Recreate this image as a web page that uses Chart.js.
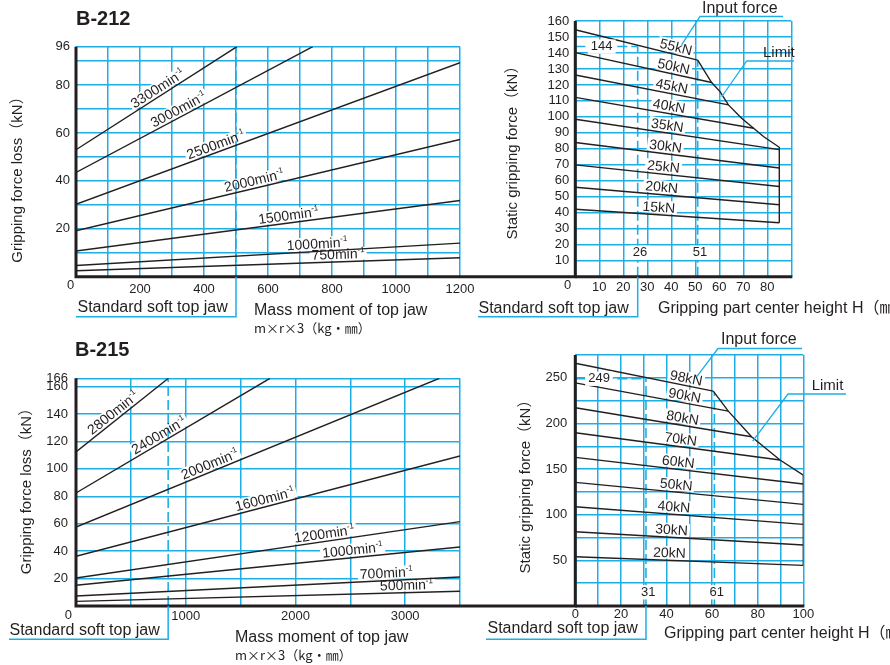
<!DOCTYPE html>
<html><head><meta charset="utf-8">
<script src="https://cdn.jsdelivr.net/npm/chart.js@4.4.1/dist/chart.umd.min.js"></script>
<style>
html,body{margin:0;padding:0;background:#fff;}
#wrap{position:relative;width:890px;height:665px;overflow:hidden;background:#fff;}
#wrap canvas{position:absolute;left:0;top:0;}
</style></head><body>
<div id="wrap">
<canvas id="c1" width="890" height="665"></canvas>
<canvas id="c2" width="890" height="665"></canvas>
<canvas id="c3" width="890" height="665"></canvas>
<canvas id="c4" width="890" height="665"></canvas>
</div>
<script>
// ---------- B-212 : gripping force loss vs mass moment of top jaw ----------
const b212Speeds = ['3300', '3000', '2500', '2000', '1500', '1000', '750'];
const b212LossX = [[0, 503], [0, 740], [0, 1200], [0, 1200], [0, 1200], [0, 1200], [0, 1200]];
const b212LossY = [[53, 96], [43.5, 96], [30.2, 89.3], [19.2, 57.3], [10.7, 31.8], [4.7, 14], [2.5, 7.9]];
const b212MassTicks = [0, 100, 200, 300, 400, 500, 600, 700, 800, 900, 1000, 1100, 1200];
const b212MassLabels = [200, 400, 600, 800, 1000, 1200];
const b212LossTicks = [0, 10, 20, 30, 40, 50, 60, 70, 80, 90, 96];
const b212LossLabels = [20, 40, 60, 80, 96];
const b212StdMass = 500;

// ---------- B-212 : static gripping force vs gripping height ----------
const b212Inputs = ['55kN', '50kN', '45kN', '40kN', '35kN', '30kN', '25kN', '20kN', '15kN'];
const b212HeightX = [[0, 51], [0, 56.8], [0, 63.8], [0, 74.3], [0, 85], [0, 85], [0, 85], [0, 85], [0, 85]];
const b212StaticY = [[154.5, 135.5], [140.2, 121.5], [126.2, 107.5], [112.2, 92.9], [98.5, 79.5], [84, 68], [70, 56.4], [56, 45], [42.2, 33.8]];
const b212LimitX = [51, 56.8, 60.3, 63.8, 69.3, 74.3, 78.4, 85, 85];
const b212LimitY = [135.5, 121.5, 115.8, 107.5, 99.1, 92.9, 87.7, 81, 33.8];
const b212HeightTicks = [0, 10, 20, 30, 40, 50, 60, 70, 80, 90];
const b212HeightLabels = [10, 20, 30, 40, 50, 60, 70, 80];
const b212StaticTicks = [0, 10, 20, 30, 40, 50, 60, 70, 80, 90, 100, 110, 120, 130, 140, 150, 160];
const b212StaticLabels = [10, 20, 30, 40, 50, 60, 70, 80, 90, 100, 110, 120, 130, 140, 150, 160];
const b212StdHeights = [26, 51];
const b212StdForces = [144, 135.5];

// ---------- B-215 : gripping force loss vs mass moment of top jaw ----------
const b215Speeds = ['2800', '2400', '2000', '1600', '1200', '1000', '700', '500'];
const b215LossX = [[0, 842], [0, 1768], [0, 3312], [0, 3500], [0, 3500], [0, 3500], [0, 3500], [0, 3500]];
const b215LossY = [[112.3, 166], [82.4, 166], [57.6, 166], [36.2, 109.4], [20.4, 61.5], [15.1, 43], [7.3, 21.1], [3.4, 10.7]];
const b215MassTicks = [0, 500, 1000, 1500, 2000, 2500, 3000, 3500];
const b215MassLabels = [1000, 2000, 3000];
const b215LossTicks = [0, 20, 40, 60, 80, 100, 120, 140, 160, 166];
const b215LossLabels = [20, 40, 60, 80, 100, 120, 140, 160, 166];
const b215StdMass = 840;

// ---------- B-215 : static gripping force vs gripping height ----------
const b215Inputs = ['98kN', '90kN', '80kN', '70kN', '60kN', '50kN', '40kN', '30kN', '20kN'];
const b215HeightX = [[0, 60.5], [0, 67.1], [0, 77.3], [0, 89.8], [0, 100], [0, 100], [0, 100], [0, 100], [0, 100]];
const b215StaticY = [[266, 235.4], [244.5, 213.5], [217.2, 185.4], [189.8, 159.9], [162.8, 133.6], [135.4, 111.3], [108.8, 89.4], [81.4, 66.8], [54, 44.5]];
const b215LimitX = [60.5, 67.1, 77.3, 89.8, 100, 100];
const b215LimitY = [235.4, 213.5, 185.4, 159.9, 143.4, 44.5];
const b215HeightTicks = [0, 10, 20, 30, 40, 50, 60, 70, 80, 90, 100];
const b215HeightLabels = [0, 20, 40, 60, 80, 100];
const b215StaticTicks = [0, 25, 50, 75, 100, 125, 150, 175, 200, 225, 250, 275];
const b215StaticLabels = [50, 100, 150, 200, 250];
const b215StdHeights = [31, 61];
const b215StdForces = [249, 234];

// ---------- styling / helpers ----------
const INK = '#231f20', GRID = '#1eaee6', WHITE = '#ffffff';
const FONT = '"Liberation Sans", Arial, "Noto Sans CJK JP", sans-serif';
const CJKFONT = '"Noto Sans CJK JP", "Liberation Sans", sans-serif';
const series = (xs, ys) => xs.map((x, i) => ({ x, y: ys[i] }));

function txt(ctx, s, x, y, size, o = {}) {
  ctx.save();
  ctx.font = (o.bold ? 'bold ' : '') + size + 'px ' + (o.family || FONT);
  ctx.textAlign = o.align || 'left';
  ctx.textBaseline = o.base || 'alphabetic';
  if (o.rot) { ctx.translate(x, y); ctx.rotate(o.rot); x = 0; y = 0; }
  if (o.bg) {
    const w = ctx.measureText(s).width;
    ctx.fillStyle = WHITE;
    const lx = ctx.textAlign === 'center' ? x - w / 2 : x;
    ctx.fillRect(lx - 3, y - size * 0.55, w + 6, size * 1.1);
  }
  ctx.fillStyle = o.color || INK;
  ctx.fillText(s, x, y);
  ctx.restore();
}
function poly(ctx, pts, color, w, dash) {
  ctx.save();
  ctx.strokeStyle = color; ctx.lineWidth = w; ctx.setLineDash(dash || []);
  ctx.beginPath();
  pts.forEach((p, i) => i ? ctx.lineTo(p[0], p[1]) : ctx.moveTo(p[0], p[1]));
  ctx.stroke(); ctx.restore();
}
function curveLabel(ch, xs, ys, atX, main, sup, size, mode) {
  const ctx = ch.ctx, sx = ch.scales.x, sy = ch.scales.y;
  const P = xs.map((x, i) => [sx.getPixelForValue(x), sy.getPixelForValue(ys[i])]);
  const X = sx.getPixelForValue(atX);
  let i = 0; while (i < P.length - 2 && P[i + 1][0] < X) i++;
  const [x0, y0] = P[i], [x1, y1] = P[i + 1];
  const Y = y0 + (X - x0) / (x1 - x0) * (y1 - y0);
  const ang = Math.atan2(y1 - y0, x1 - x0);
  ctx.save(); ctx.translate(X, Y); ctx.rotate(ang);
  ctx.font = size + 'px ' + FONT; const w1 = ctx.measureText(main).width;
  const ss = Math.round(size * 0.6);
  ctx.font = ss + 'px ' + FONT; const w2 = sup ? ctx.measureText(sup).width : 0;
  const w = w1 + w2, x = -w / 2, base = -3;
  if (mode === 'bg') {
    ctx.fillStyle = WHITE; ctx.fillRect(x - 2, base - size * 0.8, w + 4, size * 0.8 + 1.5);
  } else {
    ctx.fillStyle = INK; ctx.textBaseline = 'alphabetic';
    ctx.font = size + 'px ' + FONT; ctx.fillText(main, x, base);
    if (sup) { ctx.font = ss + 'px ' + FONT; ctx.fillText(sup, x + w1, base - size * 0.42); }
  }
  ctx.restore();
}

function makeChart(id, cfg) {
  const YW = 60, XH = 40;
  const datasets = [];
  cfg.curvesX.forEach((xs, i) => datasets.push({
    label: cfg.names[i], data: series(xs, cfg.curvesY[i]),
    borderColor: INK, borderWidth: 1.4, pointRadius: 0, fill: false, tension: 0, order: 1
  }));
  (cfg.extra || []).forEach(d => datasets.push(Object.assign({ pointRadius: 0, fill: false, tension: 0 }, d)));
  const scale = (ticks, labels, pad, isX) => ({
    type: 'linear', min: ticks[0], max: ticks[ticks.length - 1],
    afterBuildTicks: s => { s.ticks = ticks.map(v => ({ value: v })); },
    afterFit: s => {
      if (isX) s.height = XH; else s.width = YW;
      s.paddingLeft = 0; s.paddingRight = 0; s.paddingTop = 0; s.paddingBottom = 0;
    },
    grid: { color: GRID, lineWidth: 1.5, drawTicks: false },
    border: { display: false },
    ticks: {
      autoSkip: false, maxRotation: 0, minRotation: 0, padding: pad, color: INK,
      font: { family: FONT, size: 13 },
      callback: v => labels.includes(v) ? String(v) : ''
    }
  });
  return new Chart(document.getElementById(id), {
    type: 'line',
    data: { datasets },
    options: {
      responsive: false, animation: false, events: [],
      layout: { autoPadding: false, padding: { left: cfg.area.l - YW, top: cfg.area.t, right: 890 - cfg.area.r, bottom: 665 - cfg.area.b - XH } },
      plugins: { legend: { display: false }, tooltip: { enabled: false }, title: { display: false } },
      scales: {
        x: scale(cfg.xTicks, cfg.xLabels, cfg.xPad, true),
        y: scale(cfg.yTicks, cfg.yLabels, cfg.yPad, false)
      }
    },
    plugins: [{
      id: 'deco',
      beforeDatasetsDraw: ch => { if (cfg.under) cfg.under(ch); },
      afterDatasetsDraw: ch => { cfg.over(ch); }
    }]
  });
}
const dashed = (xs, ys) => ({ data: series(xs, ys), borderColor: GRID, borderWidth: 1.6, borderDash: [10, 4], order: 5 });

// ---------- Chart 1 : B-212 loss ----------
const lab1 = [268, 331, 445, 562, 667, 755, 820];
makeChart('c1', {
  area: { l: 76, t: 46.7, r: 460, b: 276.7 },
  names: b212Speeds, curvesX: b212LossX, curvesY: b212LossY,
  xTicks: b212MassTicks, xLabels: b212MassLabels, xPad: 5,
  yTicks: b212LossTicks, yLabels: b212LossLabels, yPad: 6,
  extra: [dashed([b212StdMass, b212StdMass], [0, 96])],
  under: ch => b212Speeds.forEach((s, i) => curveLabel(ch, b212LossX[i], b212LossY[i], lab1[i], s + 'min', '-1', 14, 'bg')),
  over: ch => {
    const ctx = ch.ctx, X = v => ch.scales.x.getPixelForValue(v), Y = v => ch.scales.y.getPixelForValue(v);
    b212Speeds.forEach((s, i) => curveLabel(ch, b212LossX[i], b212LossY[i], lab1[i], s + 'min', '-1', 14, 'text'));
    poly(ctx, [[X(0), Y(96)], [X(0), Y(0)], [470, Y(0)]], INK, 3);
    txt(ctx, '0', X(0) - 5.5, Y(0) + 9, 13, { align: 'center', base: 'middle' });
    txt(ctx, 'B-212', 76, 25, 20, { bold: true });
    txt(ctx, 'Gripping force loss（kN）', 18, 176, 15, { align: 'center', base: 'middle', rot: -Math.PI / 2 });
    txt(ctx, 'Standard soft top jaw', 77.5, 312, 16);
    poly(ctx, [[76, 316.7], [X(b212StdMass), 316.7], [X(b212StdMass), Y(0)]], GRID, 1.5);
    txt(ctx, 'Mass moment of top jaw', 254, 315, 16);
    txt(ctx, 'm×r×3（kg・㎜）', 254, 333, 13, { family: CJKFONT });
  }
});

// ---------- Chart 2 : B-212 static force ----------
const lab2 = [41.2, 40.3, 39.6, 38.6, 37.9, 37.2, 36.4, 35.7, 34.6];
makeChart('c2', {
  area: { l: 575.3, t: 21, r: 791.3, b: 276.7 },
  names: b212Inputs, curvesX: b212HeightX, curvesY: b212StaticY,
  xTicks: b212HeightTicks, xLabels: b212HeightLabels, xPad: 3,
  yTicks: b212StaticTicks, yLabels: b212StaticLabels, yPad: 6,
  extra: [
    { data: series(b212LimitX, b212LimitY), borderColor: INK, borderWidth: 1.4, order: 1 },
    dashed([b212StdHeights[0], b212StdHeights[0]], [0, b212StdForces[0]]),
    dashed([b212StdHeights[1], b212StdHeights[1]], [0, b212StdForces[1]]),
    dashed([0, b212StdHeights[0]], [b212StdForces[0], b212StdForces[0]])
  ],
  under: ch => b212Inputs.forEach((s, i) => curveLabel(ch, b212HeightX[i], b212StaticY[i], lab2[i], s, '', 14, 'bg')),
  over: ch => {
    const ctx = ch.ctx, X = v => ch.scales.x.getPixelForValue(v), Y = v => ch.scales.y.getPixelForValue(v);
    b212Inputs.forEach((s, i) => curveLabel(ch, b212HeightX[i], b212StaticY[i], lab2[i], s, '', 14, 'text'));
    poly(ctx, [[X(0), Y(160)], [X(0), Y(0)], [470, Y(0)]], INK, 3);
    poly(ctx, [[X(0), Y(0)], [X(90) + 1, Y(0)]], INK, 3);
    txt(ctx, '0', X(0) - 7.6, Y(0) + 9, 13, { align: 'center', base: 'middle' });
    txt(ctx, 'Static gripping force（kN）', 512.7, 149, 15, { align: 'center', base: 'middle', rot: -Math.PI / 2 });
    txt(ctx, String(b212StdForces[0]), X(11), Y(b212StdForces[0]), 13, { align: 'center', base: 'middle', bg: true });
    txt(ctx, String(b212StdHeights[0]), X(b212StdHeights[0] + 1), Y(15), 13, { align: 'center', base: 'middle', bg: true });
    txt(ctx, String(b212StdHeights[1]), X(b212StdHeights[1] + 1), Y(15), 13, { align: 'center', base: 'middle', bg: true });
    txt(ctx, 'Standard soft top jaw', 478.5, 312.7, 16);
    poly(ctx, [[478, 316.7], [X(b212StdHeights[0]), 316.7], [X(b212StdHeights[0]), Y(0)]], GRID, 1.5);
    txt(ctx, 'Gripping part center height H（㎜）', 658, 312.7, 16);
    txt(ctx, 'Input force', 702, 12.5, 16);
    poly(ctx, [[783, 16.5], [700, 16.5], [X(44.3), Y(145)]], GRID, 1.3);
    txt(ctx, 'Limit', 763, 57, 15);
    poly(ctx, [[794, 61], [746.7, 61], [X(61), Y(112.6)]], GRID, 1.3);
  }
});

// ---------- Chart 3 : B-215 loss ----------
const lab3 = [380, 790, 1246, 1738, 2273, 2528, 2832, 3014];
makeChart('c3', {
  area: { l: 76, t: 378.3, r: 460, b: 606 },
  names: b215Speeds, curvesX: b215LossX, curvesY: b215LossY,
  xTicks: b215MassTicks, xLabels: b215MassLabels, xPad: 3,
  yTicks: b215LossTicks, yLabels: b215LossLabels, yPad: 8,
  extra: [dashed([b215StdMass, b215StdMass], [0, 166])],
  under: ch => b215Speeds.forEach((s, i) => curveLabel(ch, b215LossX[i], b215LossY[i], lab3[i], s + 'min', '-1', 14, 'bg')),
  over: ch => {
    const ctx = ch.ctx, X = v => ch.scales.x.getPixelForValue(v), Y = v => ch.scales.y.getPixelForValue(v);
    b215Speeds.forEach((s, i) => curveLabel(ch, b215LossX[i], b215LossY[i], lab3[i], s + 'min', '-1', 14, 'text'));
    poly(ctx, [[X(0), Y(166)], [X(0), Y(0)], [470, Y(0)]], INK, 3);
    txt(ctx, '0', X(0) - 7.7, Y(0) + 9, 13, { align: 'center', base: 'middle' });
    txt(ctx, 'B-215', 75, 356, 20, { bold: true });
    txt(ctx, 'Gripping force loss（kN）', 27.3, 487.5, 15, { align: 'center', base: 'middle', rot: -Math.PI / 2 });
    txt(ctx, 'Standard soft top jaw', 9.5, 635, 16);
    poly(ctx, [[9, 639.3], [X(b215StdMass), 639.3], [X(b215StdMass), Y(0)]], GRID, 1.5);
    txt(ctx, 'Mass moment of top jaw', 235, 641.7, 16);
    txt(ctx, 'm×r×3（kg・㎜）', 235, 660, 13, { family: CJKFONT });
  }
});

// ---------- Chart 4 : B-215 static force ----------
const lab4 = [48, 47.4, 46.5, 45.8, 44.8, 43.9, 43, 42, 41.2];
makeChart('c4', {
  area: { l: 575.3, t: 355, r: 803.3, b: 606 },
  names: b215Inputs, curvesX: b215HeightX, curvesY: b215StaticY,
  xTicks: b215HeightTicks, xLabels: b215HeightLabels, xPad: 1,
  yTicks: b215StaticTicks, yLabels: b215StaticLabels, yPad: 8,
  extra: [
    { data: series(b215LimitX, b215LimitY), borderColor: INK, borderWidth: 1.4, order: 1 },
    dashed([b215StdHeights[0], b215StdHeights[0]], [0, b215StdForces[0]]),
    dashed([b215StdHeights[1], b215StdHeights[1]], [0, b215StdForces[1]]),
    dashed([0, b215StdHeights[0]], [b215StdForces[0], b215StdForces[0]])
  ],
  under: ch => b215Inputs.forEach((s, i) => curveLabel(ch, b215HeightX[i], b215StaticY[i], lab4[i], s, '', 14, 'bg')),
  over: ch => {
    const ctx = ch.ctx, X = v => ch.scales.x.getPixelForValue(v), Y = v => ch.scales.y.getPixelForValue(v);
    b215Inputs.forEach((s, i) => curveLabel(ch, b215HeightX[i], b215StaticY[i], lab4[i], s, '', 14, 'text'));
    poly(ctx, [[X(0), Y(275)], [X(0), Y(0)], [470, Y(0)]], INK, 3);
    poly(ctx, [[X(0), Y(0)], [X(100) + 1, Y(0)]], INK, 3);
    txt(ctx, 'Static gripping force（kN）', 526, 483, 15, { align: 'center', base: 'middle', rot: -Math.PI / 2 });
    txt(ctx, String(b215StdForces[0]), X(10.4), Y(b215StdForces[0]), 13, { align: 'center', base: 'middle', bg: true });
    txt(ctx, String(b215StdHeights[0]), X(b215StdHeights[0] + 1), Y(15), 13, { align: 'center', base: 'middle', bg: true });
    txt(ctx, String(b215StdHeights[1]), X(b215StdHeights[1] + 1), Y(15), 13, { align: 'center', base: 'middle', bg: true });
    txt(ctx, 'Standard soft top jaw', 487.5, 633.3, 16);
    poly(ctx, [[486, 639.3], [X(b215StdHeights[0]), 639.3], [X(b215StdHeights[0]), Y(0)]], GRID, 1.5);
    txt(ctx, 'Gripping part center height H（㎜）', 664, 638.3, 16);
    txt(ctx, 'Input force', 721, 344, 16);
    poly(ctx, [[802, 348.5], [718, 348.5], [X(53.2), Y(251)]], GRID, 1.3);
    txt(ctx, 'Limit', 811.7, 390, 15);
    poly(ctx, [[846, 394], [788, 394], [X(77.8), Y(180.7)]], GRID, 1.3);
  }
});
</script>
</body></html>
